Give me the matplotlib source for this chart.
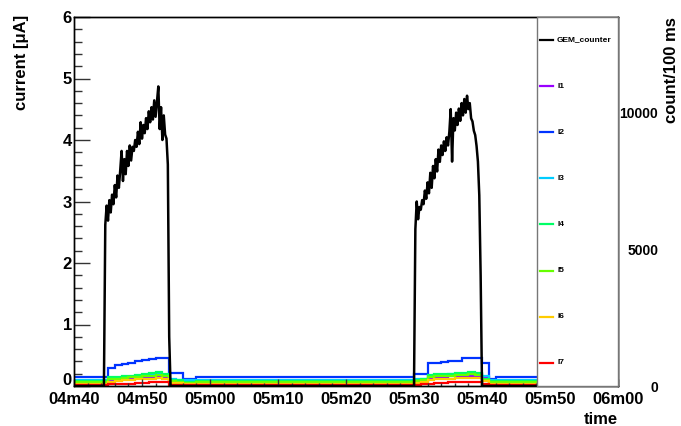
import numpy as np
import matplotlib
matplotlib.use("Agg")
import matplotlib.pyplot as plt
from matplotlib.ticker import FuncFormatter, MultipleLocator
from matplotlib.patches import Rectangle

plt.rcParams['font.family'] = ['Liberation Sans', 'DejaVu Sans']
plt.rcParams['font.weight'] = 'bold'

# === Data ===
# current histograms: 1 s bins from 04m40 (280 s) to 05m50 (350 s)
bin_edges = np.arange(280, 351, 1)

names = ['I1', 'I2', 'I3', 'I4', 'I5', 'I6', 'I7']
colors = ['#9900ff', '#0033ff', '#00ccff', '#00ff66', '#66ff00', '#ffcc00', '#ff0000']

# baseline level [uA]
base = [0.05, 0.14, 0.10, 0.08, 0.06, 0.04, 0.01]
# first pulse, bins 285..293
pulse1 = [
    [0.09, 0.10, 0.11, 0.12, 0.13, 0.14, 0.15, 0.15, 0.14],
    [0.30, 0.34, 0.36, 0.37, 0.40, 0.42, 0.44, 0.45, 0.46],
    [0.12, 0.13, 0.14, 0.15, 0.16, 0.17, 0.18, 0.19, 0.18],
    [0.14, 0.15, 0.16, 0.17, 0.18, 0.19, 0.21, 0.22, 0.20],
    [0.11, 0.12, 0.13, 0.14, 0.15, 0.16, 0.17, 0.18, 0.17],
    [0.07, 0.08, 0.09, 0.10, 0.11, 0.11, 0.12, 0.13, 0.12],
    [0.03, 0.03, 0.04, 0.04, 0.05, 0.05, 0.06, 0.06, 0.06],
]
# after first pulse, bins 294..297
after1 = [
    [0.06, 0.06, 0.04, 0.04],
    [0.21, 0.21, 0.11, 0.11],
    [0.11, 0.10, 0.09, 0.09],
    [0.10, 0.09, 0.07, 0.07],
    [0.08, 0.07, 0.05, 0.05],
    [0.05, 0.05, 0.03, 0.03],
    [0.02, 0.01, 0.01, 0.01],
]
# second pulse, bins 330..340
pulse2 = [
    [0.07, 0.08, 0.13, 0.14, 0.15, 0.16, 0.16, 0.16, 0.17, 0.16, 0.15],
    [0.19, 0.19, 0.37, 0.37, 0.39, 0.41, 0.41, 0.45, 0.46, 0.46, 0.37],
    [0.12, 0.12, 0.17, 0.18, 0.18, 0.19, 0.19, 0.20, 0.20, 0.20, 0.16],
    [0.10, 0.11, 0.18, 0.19, 0.20, 0.20, 0.21, 0.21, 0.22, 0.21, 0.12],
    [0.08, 0.09, 0.15, 0.16, 0.17, 0.17, 0.18, 0.18, 0.19, 0.18, 0.10],
    [0.05, 0.06, 0.10, 0.11, 0.12, 0.12, 0.13, 0.13, 0.13, 0.13, 0.08],
    [0.02, 0.03, 0.04, 0.05, 0.05, 0.06, 0.06, 0.06, 0.06, 0.06, 0.03],
]
# after second pulse, bin 341
after2 = [0.05, 0.12, 0.10, 0.08, 0.06, 0.04, 0.01]

# GEM counter, count/100 ms, sampled every 0.2 s during the two spills
gem_start1 = 284.4
gem_pulse1 = [0, 5900, 6600, 6050, 6800, 6350, 7000, 6650, 7350, 6900,
              7700, 7250, 7900, 8600, 7500, 8300, 7750, 8600, 8050, 8800,
              8250, 8750, 8600, 9000, 8750, 9300, 8850, 9650, 9050, 9550,
              9250, 9800, 9400, 10050, 9650, 10200, 9750, 10450, 9850, 10400,
              10960, 9400, 10200, 9000, 9900, 9200, 9050, 8100, 1800, 0]
gem_start2 = 330.0
gem_pulse2 = [0, 5740, 6750, 6100, 6550, 6450, 6800, 6650, 7150, 6850,
              7450, 7050, 7800, 7250, 8050, 7600, 8300, 7850, 8650, 8200,
              8800, 8450, 8950, 8600, 9100, 8800, 9300, 10130, 8210, 9800,
              9350, 10000, 9550, 10150, 9700, 10350, 9900, 10500, 10000, 10620,
              10130, 10350, 9790, 9680, 9340, 9180, 8780, 8210, 6980, 4050, 0]

# === Plot ===
fig = plt.figure(figsize=(6.81, 4.26), dpi=100)
ax = fig.add_axes([74 / 681, 40 / 426, 544 / 681, 369 / 426])
ax2 = ax.twinx()

for i, name in enumerate(names):
    vals = np.full(len(bin_edges) - 1, base[i])
    vals[5:14] = pulse1[i]
    vals[14:18] = after1[i]
    vals[50:61] = pulse2[i]
    vals[61] = after2[i]
    ax.stairs(vals, bin_edges, baseline=None, color=colors[i], lw=1.6)

t1 = np.round(gem_start1 + 0.2 * np.arange(len(gem_pulse1)), 1)
t2 = np.round(gem_start2 + 0.2 * np.arange(len(gem_pulse2)), 1)
gem_t = np.concatenate([[280], t1, t2, [350]])
gem_v = np.concatenate([[0], gem_pulse1, gem_pulse2, [0]])
ax2.plot(gem_t, gem_v, color='black', lw=1.8, zorder=3)

# axes
ax.set_xlim(280, 360)
ax.set_ylim(0, 6)
ax2.set_ylim(0, 13500)

ax.xaxis.set_major_locator(MultipleLocator(10))
ax.xaxis.set_minor_locator(MultipleLocator(2))
ax.xaxis.set_major_formatter(FuncFormatter(lambda s, p: f"{int(s // 60):02d}m{int(s % 60):02d}"))
ax.yaxis.set_major_locator(MultipleLocator(1))
ax.yaxis.set_minor_locator(MultipleLocator(0.2))
# the "0" at the origin is placed by hand below so it clears "04m40"
ax.yaxis.set_major_formatter(FuncFormatter(lambda v, p: '' if abs(v) < 1e-9 else f"{v:g}"))

ax.tick_params(axis='x', which='major', direction='in', length=5, width=1, labelsize=12, pad=4.5, color='#333333')
ax.tick_params(axis='x', which='minor', direction='in', length=2.5, width=1, color='#333333')
ax.tick_params(axis='y', which='major', direction='in', length=11.5, width=1, labelsize=12, pad=1.5, color='#333333')
ax.tick_params(axis='y', which='minor', direction='in', length=5.8, width=1, color='#333333')
ax.tick_params(right=False, which='both')

ax.annotate('0', xy=(0, 0), xycoords='axes fraction', xytext=(-1.5, 4),
            textcoords='offset points', ha='right', va='center', fontsize=12, fontweight='bold')

ax2.set_yticks([0, 5000, 10000])
ax2.tick_params(axis='y', length=0, labelsize=10, pad=29)
for tl in ax2.get_yticklabels():
    tl.set_horizontalalignment('right')
    tl.set_fontweight('bold')
for tl in ax.get_xticklabels() + ax.get_yticklabels():
    tl.set_fontweight('bold')

for sp in list(ax.spines.values()) + list(ax2.spines.values()):
    sp.set_linewidth(1)

# === Legend box ===
lx0 = (537 - 74) / 544
ax2.add_patch(Rectangle((lx0, 0), 1 - lx0, 1, transform=ax2.transAxes,
                        facecolor='white', edgecolor='#777777', lw=1, zorder=10, clip_on=False))
leg_names = ['GEM_counter'] + names
leg_colors = ['black'] + colors
for i, (nm, c) in enumerate(zip(leg_names, leg_colors)):
    yy = 0.9377 - i * 0.125
    ax2.plot([0.8566, 0.8805], [yy, yy], color=c, lw=1.6, transform=ax2.transAxes, zorder=11)
    ax2.text(0.888, yy, nm, transform=ax2.transAxes, fontsize=6, fontweight='bold',
             va='center', ha='left', zorder=11)

# === Titles ===
fig.text(22 / 681, 1 - 15 / 426, 'current [μA]', rotation=90, ha='center', va='top',
         fontsize=12, fontweight='bold')
fig.text(672 / 681, 1 - 17 / 426, 'count/100 ms', rotation=90, ha='center', va='top',
         fontsize=12, fontweight='bold')
fig.text(618 / 681, 1 - 420 / 426, 'time', ha='right', va='center',
         fontsize=12, fontweight='bold')

fig.savefig('out.png', dpi=100)
